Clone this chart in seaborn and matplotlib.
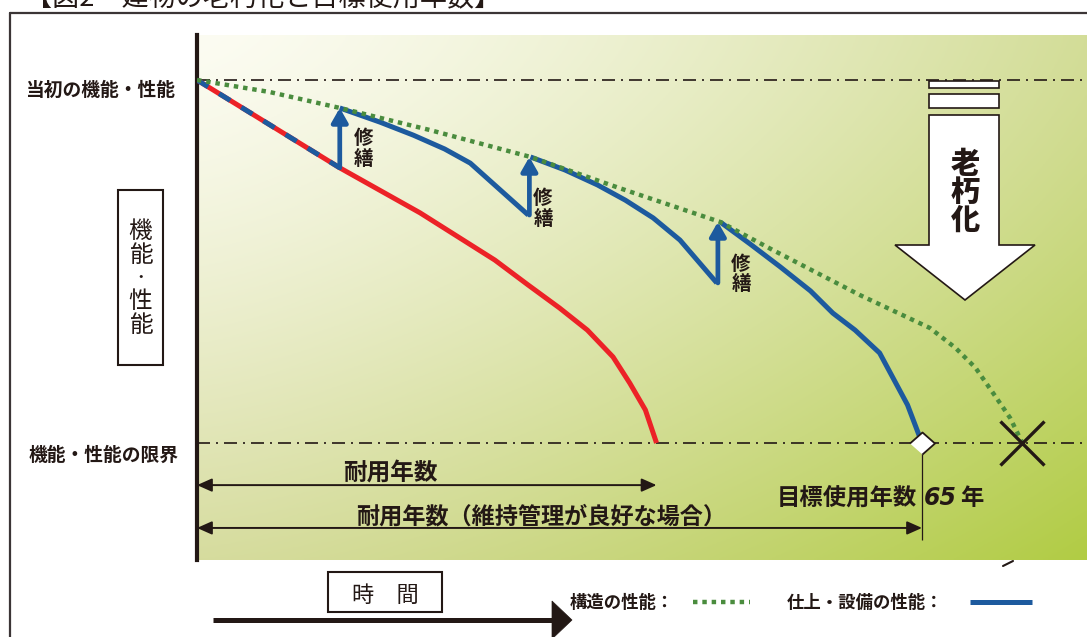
import numpy as np
import pandas as pd
import matplotlib
matplotlib.use('Agg')
import matplotlib.pyplot as plt
from matplotlib.colors import to_rgb
from matplotlib.patches import Polygon, Rectangle
import seaborn as sns

# ---- data (years vs. performance: initial = 100, limit = 0) ----
struct_year = [0, 6.5, 12.8, 20.9, 29.9, 37.9, 46.9, 51.6, 59.4, 65.7, 68.0, 69.8, 71.5, 72.9, 74.0]
struct_perf = [100, 96.7, 92.3, 86.2, 78.8, 70.2, 60.9, 53.2, 40.8, 31.7, 26.2, 20.7, 13.2, 6.9, 0]

noupkeep_year = [0, 12.8, 20.0, 26.7, 29.7, 32.5, 35.0, 37.3, 38.8, 40.2, 41.2]
noupkeep_perf = [100, 75.8, 63.4, 50.4, 43.5, 37.2, 31.1, 23.7, 16.5, 9.1, 0]

finish_year_0 = [0, 12.8]
finish_perf_0 = [100, 75.8]
finish_year_1 = [12.8, 16.4, 19.4, 22.2, 24.5, 26.9, 29.7]
finish_perf_1 = [92.3, 88.4, 84.8, 81.0, 77.1, 70.5, 62.8]
finish_year_2 = [29.9, 33.0, 35.9, 38.4, 40.9, 43.3, 46.6]
finish_perf_2 = [78.8, 75.2, 71.1, 66.9, 62.0, 55.9, 44.1]
finish_year_3 = [46.9, 49.6, 52.3, 55.0, 57.0, 59.0, 61.2, 63.7, 65.0]
finish_perf_3 = [60.9, 54.8, 48.5, 41.9, 35.8, 31.1, 24.8, 10.5, 0]

repair_year = [12.8, 29.8, 46.7]
repair_from = [75.8, 62.8, 44.1]
repair_to = [92.3, 78.8, 60.9]

life_year = 41.2       # 耐用年数
target_year = 65       # 目標使用年数
struct_end_year = 74   # 構造の限界
initial_perf = 100
limit_perf = 0

DARK = '#231815'
RED = '#ec2227'
BLUE = '#1d5a9e'
GREEN = '#4a8c3e'

sns.set_theme(style='white')
plt.rcParams['font.family'] = ['Noto Sans CJK JP', 'DejaVu Sans']

W, H = 1087, 637
fig = plt.figure(figsize=(W / 100, H / 100), dpi=100)
fig.patch.set_facecolor('white')

# main plot area: 197..1087 px wide, 35..560 px tall
ax = fig.add_axes([197 / W, 77 / H, 890 / W, 525 / H])
x_max = 890 / 11.154
y_lo, y_hi = -117 / 3.63, 408 / 3.63

# background gradient
u = np.linspace(0, 1, 300)[None, :, None] ** 1.3
v = np.linspace(0, 1, 200)[:, None, None] ** 1.3
tl, tr, bl, br = [np.array(to_rgb(c)) for c in ('#fcfcf2', '#d3dd98', '#d6dc9e', '#b1cc44')]
grad = tl * (1 - u) * (1 - v) + tr * u * (1 - v) + bl * (1 - u) * v + br * u * v
ax.imshow(grad, extent=[0, x_max, y_lo, y_hi], aspect='auto', origin='upper', zorder=0)

ax.set_xlim(0, x_max)
ax.set_ylim(y_lo, y_hi)
ax.set_xticks([])
ax.set_yticks([])
for s in ['top', 'right', 'bottom']:
    ax.spines[s].set_visible(False)
ax.spines['left'].set_color(DARK)
ax.spines['left'].set_linewidth(3)

# reference lines
dashdot = (0, (7.8, 3.6, 1.2, 3.6))
for p in (initial_perf, limit_perf):
    ax.axhline(p, color=DARK, lw=1.2, ls=dashdot, zorder=1)

# curves
sns.lineplot(x=noupkeep_year, y=noupkeep_perf, ax=ax, color=RED, lw=3.6,
             estimator=None, sort=False, solid_capstyle='butt', zorder=3)

fin = pd.concat([
    pd.DataFrame({'year': finish_year_1, 'perf': finish_perf_1, 'seg': 1}),
    pd.DataFrame({'year': finish_year_2, 'perf': finish_perf_2, 'seg': 2}),
    pd.DataFrame({'year': finish_year_3, 'perf': finish_perf_3, 'seg': 3}),
])
sns.lineplot(data=fin, x='year', y='perf', units='seg', estimator=None, sort=False,
             ax=ax, color=BLUE, lw=3.6, solid_capstyle='butt', zorder=4)
ax.plot(finish_year_0, finish_perf_0, color=BLUE, lw=3.6, ls=(0, (2.6, 2.6)),
        dash_capstyle='butt', zorder=4)

sns.lineplot(x=struct_year, y=struct_perf, ax=ax, color=GREEN, lw=3.2,
             ls=(0, (1, 1.1)), dash_capstyle='butt', estimator=None, sort=False, zorder=5)

# repair arrows
for yr, a, b in zip(repair_year, repair_from, repair_to):
    ax.annotate('', xy=(yr, b), xytext=(yr, a),
                arrowprops=dict(arrowstyle='-|>,head_length=0.7,head_width=0.4',
                                color=BLUE, lw=3.4, mutation_scale=12,
                                shrinkA=0, shrinkB=0), zorder=4)

# end markers
ax.vlines(target_year, -26.7, limit_perf, color=DARK, lw=0.9, zorder=2)
ax.plot(target_year, limit_perf, marker=[(-1, 0), (0, 0.88), (1, 0), (0, -0.88)], ms=18,
        mfc='white', mec=DARK, mew=1.3, zorder=6)
ax.plot(struct_end_year, limit_perf, marker='x', ms=32, mew=2.4, color=DARK, zorder=6)

# dimension arrows
for end, yy in ((life_year, -11.6), (target_year, -23.4)):
    ax.annotate('', xy=(end, yy), xytext=(0, yy),
                arrowprops=dict(arrowstyle='<|-|>,head_length=0.9,head_width=0.4',
                                color=DARK, lw=1.4, mutation_scale=10,
                                shrinkA=0, shrinkB=0), zorder=3)

# ---- overlay in pixel coordinates for labels and decorations ----
ov = fig.add_axes([0, 0, 1, 1])
ov.set_xlim(0, W)
ov.set_ylim(H, 0)
ov.axis('off')

# outer frame and title
ov.plot([10, 10], [13, H], color='#3b3536', lw=1.6)
ov.plot([10, W], [13, 13], color='#3b3536', lw=1.6)
ov.text(25, 5, '【図2　建物の老朽化と目標使用年数】', fontsize=19.5, color=DARK,
        ha='left', va='baseline')

# left labels
ov.text(100, 90, '当初の機能・性能', fontsize=13.5, fontweight='bold', color=DARK,
        ha='center', va='center')
ov.text(104, 455, '機能・性能の限界', fontsize=13.5, fontweight='bold', color=DARK,
        ha='center', va='center')
ov.add_patch(Rectangle((118, 190), 45, 175, fc='white', ec=DARK, lw=1.5))
for ch, yy, fs in zip('機能・性能', [232, 256, 278, 301, 325], [17, 17, 9, 17, 17]):
    ov.text(140.5, yy, ch, fontsize=fs, color=DARK, ha='center', va='center',
            fontweight='bold' if ch == '・' else 'normal')

# repair labels
for xx, yy in ((364, 139), (543, 199), (741, 264)):
    ov.text(xx, yy, '修', fontsize=14, fontweight='bold', color=DARK, ha='center', va='center')
    ov.text(xx, yy + 20, '繕', fontsize=14, fontweight='bold', color=DARK, ha='center', va='center')

# aging arrow
ov.add_patch(Rectangle((929, 81), 70, 7, fc='white', ec=DARK, lw=1.2, zorder=3))
ov.add_patch(Rectangle((929, 94), 70, 14, fc='white', ec=DARK, lw=1.2, zorder=3))
ov.add_patch(Polygon([(929, 115), (999, 115), (999, 245), (1035, 245), (965, 300),
                      (895, 245), (929, 245)], closed=True, fc='white', ec=DARK,
                     lw=1.2, zorder=3))
for ch, yy in zip('老朽化', [164, 192, 220]):
    ov.text(965, yy, ch, fontsize=21, fontweight=900, color=DARK,
            ha='center', va='center', zorder=4)

# dimension labels
ov.text(390, 473, '耐用年数', fontsize=17, fontweight='bold', color=DARK, ha='center', va='center')
ov.text(541, 517, '耐用年数（維持管理が良好な場合）', fontsize=16.7, fontweight='bold',
        color=DARK, ha='center', va='center')
ov.text(917, 498, '目標使用年数', fontsize=16.8, fontweight='bold', color=DARK,
        ha='right', va='center')
ov.text(924, 498, '65', fontsize=17, fontweight='bold', fontstyle='italic',
        family='DejaVu Sans', color=DARK, ha='left', va='center')
ov.text(960, 498, '年', fontsize=16.8, fontweight='bold', color=DARK, ha='left', va='center')
ov.plot([1003, 1013], [566, 561], color=DARK, lw=1.5)

# time axis
ov.add_patch(Rectangle((328, 572), 114, 40, fc='white', ec=DARK, lw=1.5))
ov.text(385, 595, '時　間', fontsize=16, color=DARK, ha='center', va='center')
ov.plot([213, 554], [620, 620], color=DARK, lw=3.6, solid_capstyle='butt')
ov.add_patch(Polygon([(552, 601), (572, 620), (552, 639)], closed=True, fc=DARK, ec=DARK, lw=0.5))

# legend
ov.text(570, 603, '構造の性能：', fontsize=12.5, fontweight='bold', color=DARK, ha='left', va='center')
ov.plot([693, 750], [602, 602], color=GREEN, lw=3.2, ls=(0, (1, 1.1)), dash_capstyle='butt')
ov.text(787, 603, '仕上・設備の性能：', fontsize=12.5, fontweight='bold', color=DARK,
        ha='left', va='center')
ov.plot([970, 1032], [602, 602], color=BLUE, lw=3.6, solid_capstyle='butt')

fig.savefig('out.png', dpi=100)
